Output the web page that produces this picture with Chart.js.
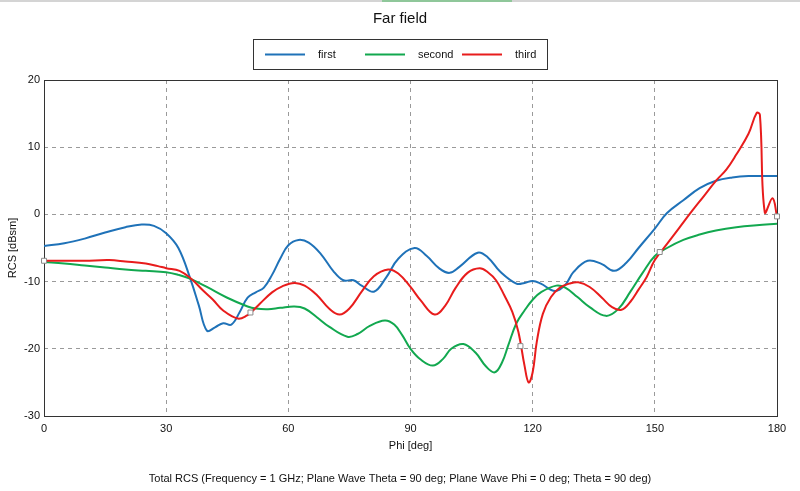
<!DOCTYPE html>
<html>
<head>
<meta charset="utf-8">
<script src="https://cdn.jsdelivr.net/npm/chart.js@4.4.0/dist/chart.umd.min.js"></script>
<style>
  html, body { margin: 0; padding: 0; background: #fff; }
  #wrap { width: 800px; height: 491px; }
</style>
</head>
<body>
<div id="wrap"><canvas id="far-field" width="800" height="491"></canvas></div>
<script>
// ---- data ----
var firstPhi  = [0, 5, 10, 15, 20, 24, 27, 30, 33, 36, 38, 40, 42, 44, 46, 48, 50, 52, 54, 56, 58, 60, 62.5, 65, 68, 71, 73.5, 76, 78, 81, 84, 87, 91, 94, 97, 99.6, 102, 106.5, 109, 112, 116, 118, 120, 122, 125.5, 128, 130, 133.5, 137, 140, 143, 146, 150, 153, 157, 161, 165, 169, 173, 180];
var firstVal  = [-4.7, -4.3, -3.6, -2.7, -1.9, -1.5, -1.7, -2.8, -5.0, -9.7, -13.5, -17.3, -16.8, -16.2, -16.4, -14.6, -12.4, -11.6, -10.9, -9.0, -6.6, -4.6, -3.8, -4.2, -5.9, -8.4, -9.8, -9.8, -10.6, -11.5, -9.4, -6.6, -5.0, -6.2, -8.0, -8.7, -7.8, -5.7, -6.4, -8.5, -10.3, -10.2, -9.9, -10.3, -11.4, -10.5, -8.6, -6.9, -7.4, -8.4, -7.2, -5.0, -2.1, 0.2, 2.1, 3.9, 5.0, 5.5, 5.7, 5.7];

var secondPhi = [0, 5, 10, 15, 20, 25, 30, 33, 36, 40, 45, 50, 52, 55, 58, 61.5, 64, 67, 70, 74.5, 77, 80, 83.7, 86, 88, 90, 92.5, 95.5, 98, 100, 103, 106, 108.5, 110.7, 112.5, 114, 116, 118, 120, 122, 125.8, 128, 131, 134, 138, 141, 144, 147, 150, 153, 157, 161, 165, 170, 175, 180];
var secondVal = [-7.1, -7.3, -7.6, -7.9, -8.2, -8.4, -8.6, -9.0, -9.6, -10.8, -12.4, -13.7, -14.0, -14.1, -13.9, -13.7, -14.0, -15.3, -16.7, -18.2, -17.8, -16.6, -15.8, -16.4, -18.0, -20.0, -21.6, -22.5, -21.5, -20.0, -19.3, -20.6, -22.6, -23.5, -22.0, -19.5, -16.2, -14.3, -12.7, -11.6, -10.6, -10.9, -12.3, -13.8, -15.1, -14.1, -11.5, -8.7, -6.2, -5.0, -3.8, -3.0, -2.4, -1.9, -1.6, -1.4];

var thirdPhi  = [0, 5, 10, 16, 20, 25, 28, 30, 33.3, 36.2, 39, 41.5, 44, 47.6, 50, 51, 53, 56, 58.5, 61.5, 64, 67, 70, 72.6, 75, 78, 81, 84.5, 87, 90, 92.5, 95.9, 98.5, 101, 104, 107, 109, 111, 113, 115, 116.5, 118, 119, 120, 121, 122.5, 124.5, 126.7, 129, 131.2, 134, 137, 139.5, 141.8, 144, 146, 148, 150, 153, 156, 159, 162, 165, 167.6, 170, 173, 175, 175.8, 177, 178.9, 180];
var thirdVal  = [-6.9, -6.9, -6.9, -6.8, -7.0, -7.3, -7.7, -8.0, -8.4, -9.6, -11.3, -12.7, -14.3, -15.5, -15.0, -14.5, -13.3, -11.6, -10.7, -10.2, -10.6, -12.0, -14.0, -14.9, -14.0, -11.5, -9.2, -8.2, -8.8, -10.8, -12.8, -14.9, -13.6, -11.0, -8.7, -8.0, -8.6, -9.8, -12.0, -14.5, -17.5, -22.5, -25.0, -23.5, -19.0, -14.8, -12.3, -10.9, -10.3, -10.1, -10.8, -12.4, -13.8, -14.2, -13.0, -11.2, -9.3, -6.8, -4.4, -2.0, 0.4, 2.7, 5.0, 6.7, 8.9, 12.0, 15.1, 14.8, 0.3, 2.4, -0.3];

// little cursor squares sitting on the curves
var markerPhi = [0, 50.7, 117, 151.2, 180];
var markerVal = [-6.9, -14.6, -19.6, -5.6, -0.3];

var seriesNames  = ["first", "second", "third"];
var seriesColors = ["#1f72b8", "#12a84f", "#e81c1c"];

var xTicks = [0, 30, 60, 90, 120, 150, 180];
var yTicks = [-30, -20, -10, 0, 10, 20];

var titleText  = "Far field";
var xTitle     = "Phi [deg]";
var yTitle     = "RCS [dBsm]";
var footerText = "Total RCS (Frequency = 1 GHz; Plane Wave Theta = 90 deg; Plane Wave Phi = 0 deg; Theta = 90 deg)";

function toPoints(xs, ys) {
	var pts = [];
	for (var i = 0; i < xs.length; i++) pts.push({x: xs[i], y: ys[i]});
	return pts;
}

var FONT = "'Liberation Sans', Arial, sans-serif";

/* ------------------------------------------------------ */
// title, framed legend, axis titles and footer
var decorations = {
	id: 'decorations',
	beforeDraw: function(chart) {
		var ctx = chart.ctx;
		ctx.save();
		// screenshot strip at the very top
		ctx.fillStyle = '#d4d4d4';
		ctx.fillRect(0, 0, 800, 2);
		ctx.fillStyle = '#8fc79a';
		ctx.fillRect(382, 0, 130, 2);
		ctx.restore();
	},
	beforeDatasetsDraw: function(chart) {
		var ctx = chart.ctx;
		var a = chart.chartArea;
		ctx.save();
		// frame round the plot
		ctx.strokeStyle = '#333';
		ctx.lineWidth = 1;
		ctx.strokeRect(Math.round(a.left) + 0.5, Math.round(a.top) + 0.5,
			Math.round(a.right - a.left), Math.round(a.bottom - a.top));
		ctx.restore();
	},
	afterDraw: function(chart) {
		var ctx = chart.ctx;
		var a = chart.chartArea;
		ctx.save();

		ctx.fillStyle = '#111';
		ctx.textBaseline = 'middle';

		ctx.font = '15px ' + FONT;
		ctx.textAlign = 'center';
		ctx.fillText(titleText, 400, 19);

		// legend box
		ctx.strokeStyle = '#333';
		ctx.lineWidth = 1;
		ctx.strokeRect(253.5, 39.5, 294, 30);
		var lineX = [265, 365, 462];
		ctx.font = '11px ' + FONT;
		ctx.textAlign = 'left';
		for (var i = 0; i < 3; i++) {
			ctx.strokeStyle = seriesColors[i];
			ctx.lineWidth = 2;
			ctx.beginPath();
			ctx.moveTo(lineX[i], 54.5);
			ctx.lineTo(lineX[i] + 40, 54.5);
			ctx.stroke();
			ctx.fillStyle = '#111';
			ctx.fillText(seriesNames[i], lineX[i] + 53, 55);
		}

		ctx.textAlign = 'center';
		ctx.fillText(xTitle, (a.left + a.right) / 2, 446);
		ctx.fillText(footerText, 400, 479);

		ctx.translate(13, (a.top + a.bottom) / 2);
		ctx.rotate(-Math.PI / 2);
		ctx.fillText(yTitle, 0, 0);
		ctx.restore();
	}
};

function gridColor(c) {
	var v = c.tick ? c.tick.value : null;
	if (c.scale.axis === 'x' && (v === 0 || v === 180)) return 'rgba(0,0,0,0)';
	if (c.scale.axis === 'y' && (v === -30 || v === 20)) return 'rgba(0,0,0,0)';
	return '#9a9a9a';
}

var datasets = [];
var allPhi = [firstPhi, secondPhi, thirdPhi];
var allVal = [firstVal, secondVal, thirdVal];
for (var s = 0; s < 3; s++) {
	datasets.push({
		label: seriesNames[s],
		data: toPoints(allPhi[s], allVal[s]),
		borderColor: seriesColors[s],
		backgroundColor: seriesColors[s],
		borderWidth: 2,
		pointRadius: 0,
		tension: 0.4,
		order: 3 - s,
		fill: false
	});
}
datasets.push({
	label: 'markers',
	data: toPoints(markerPhi, markerVal),
	showLine: false,
	clip: false,
	order: 0,
	pointStyle: 'rect',
	pointRadius: 3.5,
	pointBackgroundColor: '#fff',
	pointBorderColor: '#8a8a8a',
	pointBorderWidth: 1
});

window.myChart = new Chart(document.getElementById('far-field'), {
	type: 'line',
	data: { datasets: datasets },
	plugins: [decorations],
	options: {
		responsive: false,
		animation: false,
		devicePixelRatio: 1,
		layout: { padding: { top: 80, right: 23, left: 0, bottom: 0 } },
		plugins: {
			legend: { display: false },
			title: { display: false },
			tooltip: { enabled: false }
		},
		scales: {
			x: {
				type: 'linear',
				min: 0, max: 180,
				afterFit: function(scale) { scale.height = 75; },
				afterBuildTicks: function(scale) {
					scale.ticks = xTicks.map(function(v) { return {value: v}; });
				},
				border: { display: false, dash: [4, 4] },
				grid: { color: gridColor, lineWidth: 1, drawTicks: false, borderDash: [4, 4] },
				ticks: { color: '#111', padding: 6, maxRotation: 0, font: { family: FONT, size: 11 } }
			},
			y: {
				min: -30, max: 20,
				afterFit: function(scale) { scale.width = 44; },
				afterBuildTicks: function(scale) {
					scale.ticks = yTicks.map(function(v) { return {value: v}; });
				},
				border: { display: false, dash: [4, 4] },
				grid: { color: gridColor, lineWidth: 1, drawTicks: false, borderDash: [4, 4] },
				ticks: { color: '#111', padding: 4, font: { family: FONT, size: 11 } }
			}
		}
	}
});
</script>
</body>
</html>
